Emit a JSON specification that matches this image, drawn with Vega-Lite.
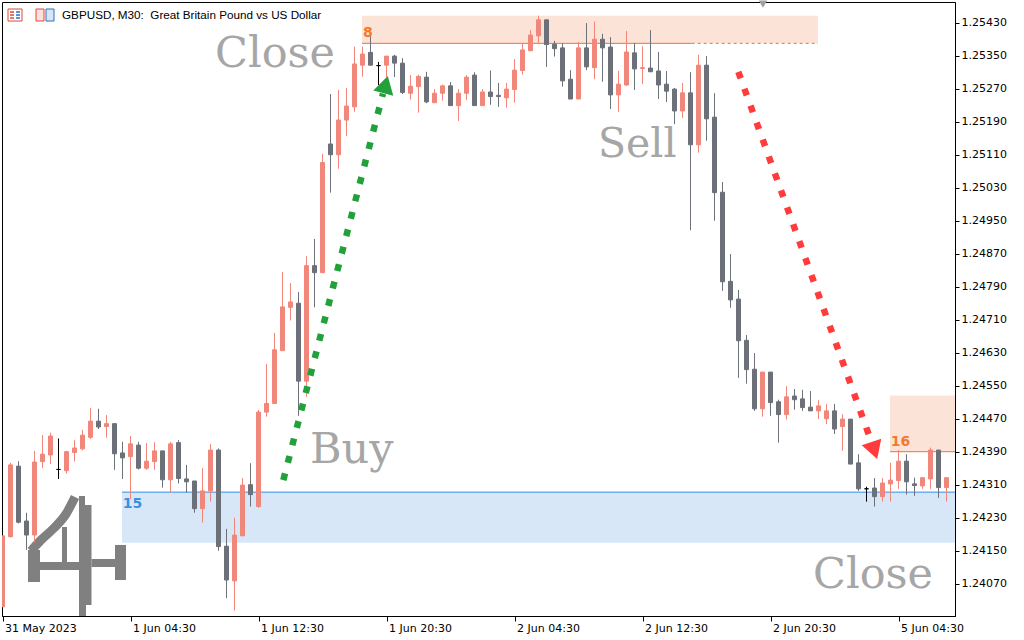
{
"$schema": "https://vega.github.io/schema/vega-lite/v6.json",
"width": 953, "height": 614,
"autosize": {"type": "none"},
"padding": {"left": 2, "top": 2, "right": 69, "bottom": 24},
"background": "#ffffff",
"config": {"view": {"stroke": "#000000", "strokeWidth": 1}, "axis": {"grid": false, "labelOverlap": false}},
"datasets": {
"candles": [
{"i":0,"t":"05-31 20:30","open":1.24014,"high":1.24186,"low":1.24014,"close":1.24186},
{"i":1,"t":"05-31 21:00","open":1.24184,"high":1.24363,"low":1.24182,"close":1.24358},
{"i":2,"t":"05-31 21:30","open":1.24355,"high":1.24367,"low":1.24216,"close":1.24219},
{"i":3,"t":"05-31 22:00","open":1.24222,"high":1.24242,"low":1.24152,"close":1.24188},
{"i":4,"t":"05-31 22:30","open":1.24188,"high":1.24392,"low":1.24170,"close":1.24365},
{"i":5,"t":"05-31 23:00","open":1.24366,"high":1.24430,"low":1.24350,"close":1.24384},
{"i":6,"t":"05-31 23:30","open":1.24382,"high":1.24436,"low":1.24360,"close":1.24428},
{"i":7,"t":"06-01 00:00","open":1.24347,"high":1.24422,"low":1.24324,"close":1.24347},
{"i":8,"t":"06-01 00:30","open":1.24344,"high":1.24392,"low":1.24337,"close":1.24390},
{"i":9,"t":"06-01 01:00","open":1.24388,"high":1.24418,"low":1.24366,"close":1.24399},
{"i":10,"t":"06-01 01:30","open":1.24397,"high":1.24443,"low":1.24393,"close":1.24430},
{"i":11,"t":"06-01 02:00","open":1.24425,"high":1.24496,"low":1.24421,"close":1.24464},
{"i":12,"t":"06-01 02:30","open":1.24464,"high":1.24494,"low":1.24445,"close":1.24450},
{"i":13,"t":"06-01 03:00","open":1.24451,"high":1.24479,"low":1.24424,"close":1.24458},
{"i":14,"t":"06-01 03:30","open":1.24458,"high":1.24458,"low":1.24346,"close":1.24385},
{"i":15,"t":"06-01 04:00","open":1.24387,"high":1.24414,"low":1.24324,"close":1.24375},
{"i":16,"t":"06-01 04:30","open":1.24378,"high":1.24428,"low":1.24275,"close":1.24409},
{"i":17,"t":"06-01 05:00","open":1.24406,"high":1.24414,"low":1.24347,"close":1.24350},
{"i":18,"t":"06-01 05:30","open":1.24350,"high":1.24411,"low":1.24346,"close":1.24367},
{"i":19,"t":"06-01 06:00","open":1.24366,"high":1.24413,"low":1.24346,"close":1.24392},
{"i":20,"t":"06-01 06:30","open":1.24392,"high":1.24392,"low":1.24303,"close":1.24322},
{"i":21,"t":"06-01 07:00","open":1.24322,"high":1.24414,"low":1.24291,"close":1.24409},
{"i":22,"t":"06-01 07:30","open":1.24412,"high":1.24418,"low":1.24313,"close":1.24325},
{"i":23,"t":"06-01 08:00","open":1.24324,"high":1.24358,"low":1.24291,"close":1.24317},
{"i":24,"t":"06-01 08:30","open":1.24319,"high":1.24319,"low":1.24242,"close":1.24252},
{"i":25,"t":"06-01 09:00","open":1.24252,"high":1.24350,"low":1.24218,"close":1.24295},
{"i":26,"t":"06-01 09:30","open":1.24295,"high":1.24409,"low":1.24269,"close":1.24394},
{"i":27,"t":"06-01 10:00","open":1.24394,"high":1.24398,"low":1.24150,"close":1.24160},
{"i":28,"t":"06-01 10:30","open":1.24161,"high":1.24203,"low":1.24035,"close":1.24079},
{"i":29,"t":"06-01 11:00","open":1.24077,"high":1.24230,"low":1.24005,"close":1.24188},
{"i":30,"t":"06-01 11:30","open":1.24186,"high":1.24326,"low":1.24186,"close":1.24309},
{"i":31,"t":"06-01 12:00","open":1.24310,"high":1.24362,"low":1.24257,"close":1.24286},
{"i":32,"t":"06-01 12:30","open":1.24257,"high":1.24491,"low":1.24254,"close":1.24486},
{"i":33,"t":"06-01 13:00","open":1.24486,"high":1.24603,"low":1.24475,"close":1.24507},
{"i":34,"t":"06-01 13:30","open":1.24507,"high":1.24678,"low":1.24507,"close":1.24637},
{"i":35,"t":"06-01 14:00","open":1.24635,"high":1.24826,"low":1.24635,"close":1.24741},
{"i":36,"t":"06-01 14:30","open":1.24740,"high":1.24799,"low":1.24708,"close":1.24753},
{"i":37,"t":"06-01 15:00","open":1.24750,"high":1.24777,"low":1.24477,"close":1.24561},
{"i":38,"t":"06-01 15:30","open":1.24561,"high":1.24864,"low":1.24523,"close":1.24841},
{"i":39,"t":"06-01 16:00","open":1.24841,"high":1.24906,"low":1.24740,"close":1.24824},
{"i":40,"t":"06-01 16:30","open":1.24824,"high":1.25112,"low":1.24824,"close":1.25091},
{"i":41,"t":"06-01 17:00","open":1.25136,"high":1.25257,"low":1.25018,"close":1.25110},
{"i":42,"t":"06-01 17:30","open":1.25110,"high":1.25267,"low":1.25076,"close":1.25194},
{"i":43,"t":"06-01 18:00","open":1.25194,"high":1.25272,"low":1.25155,"close":1.25228},
{"i":44,"t":"06-01 18:30","open":1.25226,"high":1.25372,"low":1.25214,"close":1.25330},
{"i":45,"t":"06-01 19:00","open":1.25327,"high":1.25372,"low":1.25299,"close":1.25354},
{"i":46,"t":"06-01 19:30","open":1.25358,"high":1.25404,"low":1.25326,"close":1.25327},
{"i":47,"t":"06-01 20:00","open":1.25326,"high":1.25335,"low":1.25279,"close":1.25326},
{"i":48,"t":"06-01 20:30","open":1.25327,"high":1.25349,"low":1.25298,"close":1.25349},
{"i":49,"t":"06-01 21:00","open":1.25349,"high":1.25352,"low":1.25298,"close":1.25332},
{"i":50,"t":"06-01 21:30","open":1.25332,"high":1.25344,"low":1.25257,"close":1.25261},
{"i":51,"t":"06-01 22:00","open":1.25259,"high":1.25303,"low":1.25244,"close":1.25276},
{"i":52,"t":"06-01 22:30","open":1.25275,"high":1.25304,"low":1.25212,"close":1.25300},
{"i":53,"t":"06-01 23:00","open":1.25298,"high":1.25311,"low":1.25235,"close":1.25238},
{"i":54,"t":"06-01 23:30","open":1.25236,"high":1.25269,"low":1.25236,"close":1.25259},
{"i":55,"t":"06-02 00:00","open":1.25259,"high":1.25280,"low":1.25241,"close":1.25277},
{"i":56,"t":"06-02 00:30","open":1.25277,"high":1.25286,"low":1.25229,"close":1.25229},
{"i":57,"t":"06-02 01:00","open":1.25229,"high":1.25269,"low":1.25192,"close":1.25259},
{"i":58,"t":"06-02 01:30","open":1.25259,"high":1.25303,"low":1.25243,"close":1.25298},
{"i":59,"t":"06-02 02:00","open":1.25303,"high":1.25310,"low":1.25229,"close":1.25229},
{"i":60,"t":"06-02 02:30","open":1.25229,"high":1.25269,"low":1.25229,"close":1.25262},
{"i":61,"t":"06-02 03:00","open":1.25262,"high":1.25314,"low":1.25231,"close":1.25251},
{"i":62,"t":"06-02 03:30","open":1.25254,"high":1.25284,"low":1.25226,"close":1.25251},
{"i":63,"t":"06-02 04:00","open":1.25248,"high":1.25284,"low":1.25224,"close":1.25269},
{"i":64,"t":"06-02 04:30","open":1.25268,"high":1.25342,"low":1.25236,"close":1.25315},
{"i":65,"t":"06-02 05:00","open":1.25314,"high":1.25381,"low":1.25304,"close":1.25364},
{"i":66,"t":"06-02 05:30","open":1.25362,"high":1.25412,"low":1.25362,"close":1.25400},
{"i":67,"t":"06-02 06:00","open":1.25398,"high":1.25447,"low":1.25380,"close":1.25437},
{"i":68,"t":"06-02 06:30","open":1.25437,"high":1.25437,"low":1.25323,"close":1.25377},
{"i":69,"t":"06-02 07:00","open":1.25378,"high":1.25386,"low":1.25348,"close":1.25367},
{"i":70,"t":"06-02 07:30","open":1.25369,"high":1.25380,"low":1.25275,"close":1.25289},
{"i":71,"t":"06-02 08:00","open":1.25293,"high":1.25315,"low":1.25245,"close":1.25245},
{"i":72,"t":"06-02 08:30","open":1.25245,"high":1.25383,"low":1.25245,"close":1.25369},
{"i":73,"t":"06-02 09:00","open":1.25369,"high":1.25429,"low":1.25315,"close":1.25323},
{"i":74,"t":"06-02 09:30","open":1.25321,"high":1.25433,"low":1.25293,"close":1.25390},
{"i":75,"t":"06-02 10:00","open":1.25390,"high":1.25403,"low":1.25287,"close":1.25369},
{"i":76,"t":"06-02 10:30","open":1.25371,"high":1.25395,"low":1.25221,"close":1.25255},
{"i":77,"t":"06-02 11:00","open":1.25255,"high":1.25313,"low":1.25214,"close":1.25281},
{"i":78,"t":"06-02 11:30","open":1.25279,"high":1.25410,"low":1.25277,"close":1.25359},
{"i":79,"t":"06-02 12:00","open":1.25357,"high":1.25381,"low":1.25267,"close":1.25318},
{"i":80,"t":"06-02 12:30","open":1.25319,"high":1.25373,"low":1.25281,"close":1.25321},
{"i":81,"t":"06-02 13:00","open":1.25320,"high":1.25412,"low":1.25311,"close":1.25311},
{"i":82,"t":"06-02 13:30","open":1.25313,"high":1.25359,"low":1.25245,"close":1.25279},
{"i":83,"t":"06-02 14:00","open":1.25281,"high":1.25313,"low":1.25238,"close":1.25264},
{"i":84,"t":"06-02 14:30","open":1.25269,"high":1.25272,"low":1.25184,"close":1.25216},
{"i":85,"t":"06-02 15:00","open":1.25216,"high":1.25284,"low":1.25199,"close":1.25260},
{"i":86,"t":"06-02 15:30","open":1.25260,"high":1.25310,"low":1.24927,"close":1.25134},
{"i":87,"t":"06-02 16:00","open":1.25134,"high":1.25352,"low":1.25115,"close":1.25327},
{"i":88,"t":"06-02 16:30","open":1.25327,"high":1.25349,"low":1.25144,"close":1.25197},
{"i":89,"t":"06-02 17:00","open":1.25201,"high":1.25259,"low":1.24950,"close":1.25018},
{"i":90,"t":"06-02 17:30","open":1.25019,"high":1.25044,"low":1.24780,"close":1.24802},
{"i":91,"t":"06-02 18:00","open":1.24803,"high":1.24869,"low":1.24739,"close":1.24758},
{"i":92,"t":"06-02 18:30","open":1.24760,"high":1.24782,"low":1.24569,"close":1.24659},
{"i":93,"t":"06-02 19:00","open":1.24660,"high":1.24673,"low":1.24555,"close":1.24589},
{"i":94,"t":"06-02 19:30","open":1.24590,"high":1.24629,"low":1.24489,"close":1.24494},
{"i":95,"t":"06-02 20:00","open":1.24494,"high":1.24583,"low":1.24475,"close":1.24583},
{"i":96,"t":"06-02 20:30","open":1.24583,"high":1.24583,"low":1.24477,"close":1.24509},
{"i":97,"t":"06-02 21:00","open":1.24511,"high":1.24516,"low":1.24412,"close":1.24480},
{"i":98,"t":"06-02 21:30","open":1.24480,"high":1.24549,"low":1.24468,"close":1.24523},
{"i":99,"t":"06-02 22:00","open":1.24525,"high":1.24542,"low":1.24492,"close":1.24516},
{"i":100,"t":"06-02 22:30","open":1.24518,"high":1.24540,"low":1.24489,"close":1.24497},
{"i":101,"t":"06-02 23:00","open":1.24498,"high":1.24537,"low":1.24489,"close":1.24489},
{"i":102,"t":"06-02 23:30","open":1.24489,"high":1.24515,"low":1.24469,"close":1.24501},
{"i":103,"t":"06-05 00:00","open":1.24470,"high":1.24506,"low":1.24457,"close":1.24489},
{"i":104,"t":"06-05 00:30","open":1.24489,"high":1.24506,"low":1.24433,"close":1.24445},
{"i":105,"t":"06-05 01:00","open":1.24451,"high":1.24481,"low":1.24392,"close":1.24469},
{"i":106,"t":"06-05 01:30","open":1.24469,"high":1.24469,"low":1.24360,"close":1.24360},
{"i":107,"t":"06-05 02:00","open":1.24363,"high":1.24384,"low":1.24295,"close":1.24300},
{"i":108,"t":"06-05 02:30","open":1.24300,"high":1.24305,"low":1.24269,"close":1.24300},
{"i":109,"t":"06-05 03:00","open":1.24302,"high":1.24326,"low":1.24257,"close":1.24281},
{"i":110,"t":"06-05 03:30","open":1.24281,"high":1.24326,"low":1.24269,"close":1.24314},
{"i":111,"t":"06-05 04:00","open":1.24312,"high":1.24363,"low":1.24269,"close":1.24321},
{"i":112,"t":"06-05 04:30","open":1.24320,"high":1.24394,"low":1.24300,"close":1.24367},
{"i":113,"t":"06-05 05:00","open":1.24367,"high":1.24384,"low":1.24286,"close":1.24317},
{"i":114,"t":"06-05 05:30","open":1.24312,"high":1.24327,"low":1.24283,"close":1.24308},
{"i":115,"t":"06-05 06:00","open":1.24307,"high":1.24327,"low":1.24300,"close":1.24327},
{"i":116,"t":"06-05 06:30","open":1.24324,"high":1.24400,"low":1.24300,"close":1.24394},
{"i":117,"t":"06-05 07:00","open":1.24394,"high":1.24394,"low":1.24278,"close":1.24303},
{"i":118,"t":"06-05 07:30","open":1.24303,"high":1.24327,"low":1.24269,"close":1.24327}
],
"zones": [
{"x1": 44.94, "x2": 101.94, "y1": 1.25447, "y2": 1.25380, "fill": "#FCE3D7"},
{"x1": 110.94, "x2": 119.0625, "y1": 1.24526, "y2": 1.24390, "fill": "#FCE3D7"},
{"x1": 14.94, "x2": 119.0625, "y1": 1.24292, "y2": 1.24169, "fill": "#D7E7F8"}
],
"levels": [
{"x1": 44.94, "x2": 86.15, "y": 1.25380, "color": "#F07238"},
{"x1": 110.94, "x2": 119.0625, "y": 1.24390, "color": "#F07238"},
{"x1": 14.94, "x2": 119.0625, "y": 1.24292, "color": "#2E8DE8"}
],
"dashed": [
{"x1": 86.15, "x2": 101.94, "y": 1.25380, "color": "#F07238"}
],
"nums": [
{"x": 45.06, "y": 1.25406, "text": "8", "color": "#F07A30"},
{"x": 111.03, "y": 1.24414, "text": "16", "color": "#F07A30"},
{"x": 15.03, "y": 1.24264, "text": "15", "color": "#3B8FE3"}
],
"words": [
{"x": 26.56, "y": 1.25323, "text": "Close", "size": 43},
{"x": 38.44, "y": 1.24362, "text": "Buy", "size": 43},
{"x": 74.44, "y": 1.25105, "text": "Sell", "size": 41},
{"x": 101.31, "y": 1.24059, "text": "Close", "size": 43}
],
"arrows": [
{"x": 35.1, "y": 1.24321, "x2": 47.56, "y2": 1.25258, "color": "#22A03A"},
{"x": 91.98, "y": 1.25311, "x2": 108.61, "y2": 1.24414, "color": "#FF3B3B"}
],
"heads": [
{"x": 47.88, "y": 1.25280, "angle": 14.6, "color": "#22A03A"},
{"x": 108.98, "y": 1.24393, "angle": 161.4, "color": "#FF3B3B"}
],
"title": [
{"x": 7.44, "y": 1.254486, "text": "GBPUSD, M30:\u00a0 Great Britain Pound vs US Dollar"}
],
"marker": [
{"x": 95.06, "y": 1.25475}
],
"icons": [
{"x1": 0.6875, "x2": 2.4375, "y1": 1.254632, "y2": 1.254341, "fill": "#FFFFFF", "stroke": "#E0483C"},
{"x1": 4.1875, "x2": 5.1875, "y1": 1.254632, "y2": 1.254341, "fill": "#FBE0DC", "stroke": "#E0483C"},
{"x1": 5.4375, "x2": 6.4375, "y1": 1.254632, "y2": 1.254341, "fill": "#D6E6F7", "stroke": "#2F6FC0"}
],
"iconLines": [
{"x1": 0.9375, "x2": 1.4375, "y": 1.254559, "color": "#E0483C"},
{"x1": 0.9375, "x2": 1.4375, "y": 1.254486, "color": "#E0483C"},
{"x1": 0.9375, "x2": 1.4375, "y": 1.254414, "color": "#E0483C"},
{"x1": 1.6875, "x2": 2.1875, "y": 1.254559, "color": "#2F6FC0"},
{"x1": 1.6875, "x2": 2.1875, "y": 1.254486, "color": "#2F6FC0"},
{"x1": 1.6875, "x2": 2.1875, "y": 1.254414, "color": "#2F6FC0"}
],
"logoBlocks": [
{"x1": 9.5625, "x2": 11.125, "y1": 1.242608, "y2": 1.240184},
{"x1": 9.5625, "x2": 10.3125, "y1": 1.242826, "y2": 1.242608},
{"x1": 9.5625, "x2": 10.4375, "y1": 1.240184, "y2": 1.239917},
{"x1": 11.125, "x2": 14.0625, "y1": 1.241299, "y2": 1.241105},
{"x1": 14.0625, "x2": 15.4375, "y1": 1.241639, "y2": 1.240790},
{"x1": 4.6875, "x2": 9.5625, "y1": 1.241226, "y2": 1.241032},
{"x1": 3.1875, "x2": 4.6875, "y1": 1.241517, "y2": 1.240741},
{"x1": 7.4375, "x2": 8.0625, "y1": 1.242075, "y2": 1.241202}
],
"logoCurve": [
{"x": 3.5625, "y": 1.241493},
{"x": 4.8125, "y": 1.241759},
{"x": 6.4375, "y": 1.242050},
{"x": 7.9375, "y": 1.242390},
{"x": 9.0625, "y": 1.242802}
]
},
"layer": [
{
"data": {"name": "zones"},
"mark": {"type": "rect", "clip": true},
"encoding": {
"x": {"field": "x1", "type": "quantitative", "scale": {"domain": [-0.0625, 119.0625], "nice": false, "zero": false, "padding": 0}},
"x2": {"field": "x2"},
"y": {"field": "y1", "type": "quantitative", "scale": {"domain": [1.239917, 1.254802], "nice": false, "zero": false, "padding": 0}},
"y2": {"field": "y2"},
"fill": {"field": "fill", "type": "nominal", "scale": null}
}
},
{
"data": {"name": "logoBlocks"},
"mark": {"type": "rect", "clip": true, "color": "#808080"},
"encoding": {
"x": {"field": "x1", "type": "quantitative", "scale": {"domain": [-0.0625, 119.0625], "nice": false, "zero": false, "padding": 0}},
"x2": {"field": "x2"},
"y": {"field": "y1", "type": "quantitative", "scale": {"domain": [1.239917, 1.254802], "nice": false, "zero": false, "padding": 0}},
"y2": {"field": "y2"}
}
},
{
"data": {"name": "logoCurve"},
"mark": {"type": "line", "clip": true, "color": "#808080", "strokeWidth": 9, "interpolate": "monotone", "strokeCap": "butt"},
"encoding": {
"x": {"field": "x", "type": "quantitative", "scale": {"domain": [-0.0625, 119.0625], "nice": false, "zero": false, "padding": 0}},
"y": {"field": "y", "type": "quantitative", "scale": {"domain": [1.239917, 1.254802], "nice": false, "zero": false, "padding": 0}}
}
},
{
"data": {"name": "icons"},
"mark": {"type": "rect", "strokeWidth": 1},
"encoding": {
"x": {"field": "x1", "type": "quantitative", "scale": {"domain": [-0.0625, 119.0625], "nice": false, "zero": false, "padding": 0}},
"x2": {"field": "x2"},
"y": {"field": "y1", "type": "quantitative", "scale": {"domain": [1.239917, 1.254802], "nice": false, "zero": false, "padding": 0}},
"y2": {"field": "y2"},
"fill": {"field": "fill", "type": "nominal", "scale": null},
"stroke": {"field": "stroke", "type": "nominal", "scale": null}
}
},
{
"data": {"name": "iconLines"},
"mark": {"type": "rule", "strokeWidth": 1.5},
"encoding": {
"x": {"field": "x1", "type": "quantitative", "scale": {"domain": [-0.0625, 119.0625], "nice": false, "zero": false, "padding": 0}},
"x2": {"field": "x2"},
"y": {"field": "y", "type": "quantitative", "scale": {"domain": [1.239917, 1.254802], "nice": false, "zero": false, "padding": 0}},
"color": {"field": "color", "type": "nominal", "scale": null}
}
},
{
"data": {"name": "levels"},
"mark": {"type": "rule", "strokeWidth": 1, "clip": true},
"encoding": {
"x": {"field": "x1", "type": "quantitative", "scale": {"domain": [-0.0625, 119.0625], "nice": false, "zero": false, "padding": 0}},
"x2": {"field": "x2"},
"y": {"field": "y", "type": "quantitative", "scale": {"domain": [1.239917, 1.254802], "nice": false, "zero": false, "padding": 0}},
"color": {"field": "color", "type": "nominal", "scale": null}
}
},
{
"data": {"name": "dashed"},
"mark": {"type": "rule", "strokeWidth": 1, "strokeDash": [3, 3], "clip": true},
"encoding": {
"x": {"field": "x1", "type": "quantitative", "scale": {"domain": [-0.0625, 119.0625], "nice": false, "zero": false, "padding": 0}},
"x2": {"field": "x2"},
"y": {"field": "y", "type": "quantitative", "scale": {"domain": [1.239917, 1.254802], "nice": false, "zero": false, "padding": 0}},
"color": {"field": "color", "type": "nominal", "scale": null}
}
},
{
"data": {"name": "candles"},
"mark": {"type": "rule", "strokeWidth": 1, "clip": true},
"encoding": {
"x": {"field": "i", "type": "quantitative", "scale": {"domain": [-0.0625, 119.0625], "nice": false, "zero": false, "padding": 0},
 "axis": {"values": [0, 16, 32, 48, 64, 80, 96, 112], "tickCount": 20, "labelExpr": "['31 May 2023','1 Jun 04:30','1 Jun 12:30','1 Jun 20:30','2 Jun 04:30','2 Jun 12:30','2 Jun 20:30','5 Jun 04:30'][round(datum.value/16)]", "title": null, "grid": false, "domainColor": "#000000", "tickColor": "#000000", "tickSize": 5, "labelAlign": "left", "labelBaseline": "top", "labelPadding": 1, "labelOffset": 2, "labelFont": "DejaVu Sans", "labelFontSize": 11, "labelColor": "#000000", "labelFlush": false, "labelOverlap": false, "labelBound": false}},
"y": {"field": "low", "type": "quantitative", "scale": {"domain": [1.239917, 1.254802], "nice": false, "zero": false, "padding": 0},
 "axis": {"orient": "right", "values": [1.2407, 1.2415, 1.2423, 1.2431, 1.2439, 1.2447, 1.2455, 1.2463, 1.2471, 1.2479, 1.2487, 1.2495, 1.2503, 1.2511, 1.2519, 1.2527, 1.2535, 1.2543], "tickCount": 40, "format": ".5f", "title": null, "grid": false, "tickSize": 4, "labelPadding": 2, "labelFont": "DejaVu Sans", "labelFontSize": 11, "labelColor": "#000000", "domainColor": "#000000", "tickColor": "#000000", "labelFlush": false, "labelOverlap": false}},
"y2": {"field": "high"},
"color": {"condition": [{"test": "datum.close == datum.open", "value": "#000000"}, {"test": "datum.close > datum.open", "value": "#F0877A"}], "value": "#6C7179"}
}
},
{
"data": {"name": "candles"},
"mark": {"type": "bar", "width": 4, "strokeWidth": 1, "clip": true},
"encoding": {
"x": {"field": "i", "type": "quantitative", "scale": {"domain": [-0.0625, 119.0625], "nice": false, "zero": false, "padding": 0}},
"y": {"field": "open", "type": "quantitative", "scale": {"domain": [1.239917, 1.254802], "nice": false, "zero": false, "padding": 0}},
"y2": {"field": "close"},
"fill": {"condition": [{"test": "datum.close == datum.open", "value": "#000000"}, {"test": "datum.close > datum.open", "value": "#F0877A"}], "value": "#6C7179"},
"stroke": {"condition": [{"test": "datum.close == datum.open", "value": "#000000"}, {"test": "datum.close > datum.open", "value": "#F0877A"}], "value": "#6C7179"}
}
},
{
"data": {"name": "words"},
"mark": {"type": "text", "font": "DejaVu Serif", "align": "left", "baseline": "alphabetic", "color": "#A6A6A6"},
"encoding": {
"x": {"field": "x", "type": "quantitative", "scale": {"domain": [-0.0625, 119.0625], "nice": false, "zero": false, "padding": 0}},
"y": {"field": "y", "type": "quantitative", "scale": {"domain": [1.239917, 1.254802], "nice": false, "zero": false, "padding": 0}},
"text": {"field": "text"},
"size": {"field": "size", "type": "quantitative", "scale": null}
}
},
{
"data": {"name": "nums"},
"mark": {"type": "text", "font": "DejaVu Sans", "fontSize": 14, "fontWeight": "bold", "align": "left", "baseline": "middle"},
"encoding": {
"x": {"field": "x", "type": "quantitative", "scale": {"domain": [-0.0625, 119.0625], "nice": false, "zero": false, "padding": 0}},
"y": {"field": "y", "type": "quantitative", "scale": {"domain": [1.239917, 1.254802], "nice": false, "zero": false, "padding": 0}},
"text": {"field": "text"},
"color": {"field": "color", "type": "nominal", "scale": null}
}
},
{
"data": {"name": "title"},
"mark": {"type": "text", "font": "Liberation Sans", "fontSize": 11.7, "align": "left", "baseline": "middle", "color": "#000000"},
"encoding": {
"x": {"field": "x", "type": "quantitative", "scale": {"domain": [-0.0625, 119.0625], "nice": false, "zero": false, "padding": 0}},
"y": {"field": "y", "type": "quantitative", "scale": {"domain": [1.239917, 1.254802], "nice": false, "zero": false, "padding": 0}},
"text": {"field": "text"}
}
},
{
"data": {"name": "arrows"},
"mark": {"type": "rule", "strokeWidth": 6.5, "strokeDash": [7, 11], "strokeCap": "butt"},
"encoding": {
"x": {"field": "x", "type": "quantitative", "scale": {"domain": [-0.0625, 119.0625], "nice": false, "zero": false, "padding": 0}},
"y": {"field": "y", "type": "quantitative", "scale": {"domain": [1.239917, 1.254802], "nice": false, "zero": false, "padding": 0}},
"x2": {"field": "x2"},
"y2": {"field": "y2"},
"color": {"field": "color", "type": "nominal", "scale": null}
}
},
{
"data": {"name": "heads"},
"mark": {"type": "point", "shape": "triangle-up", "filled": true, "opacity": 1, "size": 424, "strokeWidth": 0},
"encoding": {
"x": {"field": "x", "type": "quantitative", "scale": {"domain": [-0.0625, 119.0625], "nice": false, "zero": false, "padding": 0}},
"y": {"field": "y", "type": "quantitative", "scale": {"domain": [1.239917, 1.254802], "nice": false, "zero": false, "padding": 0}},
"angle": {"field": "angle", "type": "quantitative", "scale": null},
"color": {"field": "color", "type": "nominal", "scale": null}
}
},
{
"data": {"name": "marker"},
"mark": {"type": "point", "shape": "triangle-down", "filled": true, "opacity": 1, "size": 70, "color": "#A0A0A0", "strokeWidth": 0},
"encoding": {
"x": {"field": "x", "type": "quantitative", "scale": {"domain": [-0.0625, 119.0625], "nice": false, "zero": false, "padding": 0}},
"y": {"field": "y", "type": "quantitative", "scale": {"domain": [1.239917, 1.254802], "nice": false, "zero": false, "padding": 0}}
}
}
]
}
